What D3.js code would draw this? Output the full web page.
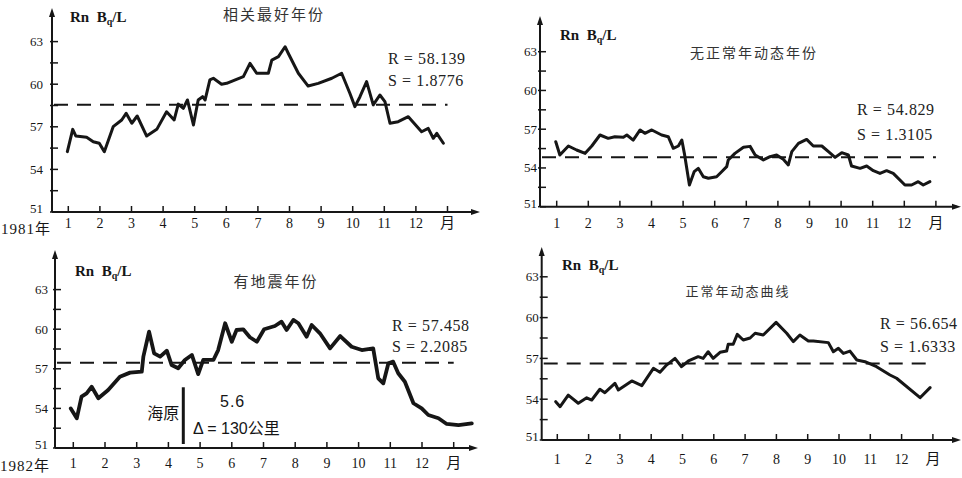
<!DOCTYPE html>
<html>
<head>
<meta charset="utf-8">
<script src="https://cdn.jsdelivr.net/npm/d3@7"></script>
<style>
  body { margin: 0; background: #fff; }
  svg { display: block; }
</style>
</head>
<body>
<div id="plot"></div>
<script>
// Values
const monthLabels = ["1", "2", "3", "4", "5", "6", "7", "8", "9", "10", "11", "12", "月"];
const yTickValues = [51, 54, 57, 60, 63];
const titles = ["相关最好年份", "无正常年动态年份", "有地震年份", "正常年动态曲线"];
const rTexts = ["58.139", "54.829", "57.458", "56.654"];
const sTexts = ["1.8776", "1.3105", "2.2085", "1.6333"];
const meanLevels = [58.55, 54.82, 57.46, 56.62];
const yearLabels = ["1981年", "", "1982年", ""];

// 相关最好年份 (1981)
const p1Months = [0.97, 1.14, 1.24, 1.58, 1.79, 1.98, 2.14, 2.42, 2.69, 2.83, 3.01, 3.18, 3.48, 3.80,
  4.11, 4.35, 4.48, 4.64, 4.77, 4.96, 5.11, 5.25, 5.33, 5.48, 5.59, 5.85, 6.01, 6.54, 6.75, 6.96,
  7.22, 7.33, 7.44, 7.65, 7.86, 7.96, 8.28, 8.59, 8.91, 9.34, 9.65, 9.91, 10.07, 10.23, 10.44,
  10.65, 10.86, 11.02, 11.18, 11.44, 11.76, 12.18, 12.39, 12.55, 12.66, 12.87];
const p1Values = [55.25, 56.82, 56.35, 56.26, 55.95, 55.84, 55.25, 57.01, 57.48, 57.95, 57.25, 57.76,
  56.35, 56.82, 58.06, 57.48, 58.6, 58.3, 58.89, 57.13, 58.89, 59.12, 58.89, 60.3, 60.42, 60.0,
  60.06, 60.53, 61.47, 60.77, 60.77, 60.77, 61.7, 61.94, 62.64, 62.18, 60.77, 59.87, 60.06, 60.42,
  60.77, 59.36, 58.42, 59.12, 60.18, 58.54, 59.24, 58.77, 57.25, 57.36, 57.71, 56.65, 56.89, 56.19,
  56.54, 55.84];

// 无正常年动态年份
const p2Months = [0.97, 1.10, 1.37, 1.63, 1.90, 2.11, 2.37, 2.63, 2.84, 3.11, 3.22, 3.42, 3.64, 3.79,
  4.01, 4.32, 4.53, 4.69, 4.85, 4.96, 5.04, 5.20, 5.35, 5.48, 5.64, 5.80, 6.06, 6.22, 6.38, 6.43,
  6.64, 6.91, 7.12, 7.28, 7.54, 7.75, 7.96, 8.17, 8.33, 8.44, 8.65, 8.91, 9.12, 9.39, 9.60, 9.81,
  10.02, 10.23, 10.33, 10.60, 10.81, 11.02, 11.23, 11.44, 11.65, 12.02, 12.23, 12.44, 12.60, 12.81];
const p2Values = [56.03, 55.0, 55.7, 55.39, 55.13, 55.7, 56.55, 56.29, 56.42, 56.37, 56.55, 56.16,
  56.94, 56.68, 56.94, 56.55, 56.42, 55.52, 55.7, 56.16, 55.13, 52.68, 53.71, 53.97, 53.32, 53.2,
  53.32, 53.71, 54.1, 54.62, 55.13, 55.6, 55.67, 55.0, 54.62, 54.87, 55.0, 54.67, 54.23, 55.26,
  55.9, 56.21, 55.7, 55.7, 55.26, 54.82, 55.18, 55.0, 54.15, 53.97, 54.15, 53.79, 53.58, 53.79,
  53.58, 52.68, 52.68, 52.94, 52.68, 52.94];

// 有地震年份 (1982)
const p3Months = [0.92, 1.11, 1.26, 1.42, 1.58, 1.79, 2.10, 2.47, 2.79, 3.16, 3.21, 3.39, 3.55, 3.74,
  3.95, 4.10, 4.31, 4.52, 4.74, 4.94, 5.10, 5.42, 5.57, 5.79, 6.00, 6.15, 6.36, 6.57, 6.79, 7.02,
  7.36, 7.57, 7.73, 7.94, 8.10, 8.36, 8.52, 8.78, 9.10, 9.42, 9.78, 10.10, 10.46, 10.62, 10.78,
  10.94, 11.09, 11.25, 11.46, 11.73, 11.99, 12.20, 12.52, 12.78, 13.15, 13.57];
const p3Values = [54.0, 53.25, 54.89, 55.14, 55.64, 54.77, 55.39, 56.4, 56.71, 56.78, 57.92, 59.81,
  58.17, 57.92, 58.37, 57.29, 57.04, 57.67, 58.05, 56.6, 57.67, 57.67, 58.42, 60.45, 59.05, 59.94,
  59.99, 59.39, 59.05, 60.0, 60.24, 60.57, 59.94, 60.7, 60.45, 59.43, 60.32, 59.69, 58.55, 59.48,
  58.67, 58.42, 58.55, 56.28, 55.9, 57.42, 57.54, 56.66, 56.02, 54.39, 54.0, 53.5, 53.25, 52.82,
  52.74, 52.87];
const quakeMonth = 4.47;
const quakeTop = 55.6;

// 正常年动态曲线
const p4Months = [0.95, 1.09, 1.35, 1.67, 1.94, 2.10, 2.36, 2.52, 2.84, 2.95, 3.38, 3.70, 4.07, 4.28,
  4.49, 4.76, 4.97, 5.19, 5.50, 5.66, 5.82, 5.98, 6.20, 6.41, 6.46, 6.62, 6.75, 6.94, 7.16, 7.32,
  7.58, 7.99, 8.33, 8.54, 8.75, 9.02, 9.18, 9.66, 9.82, 9.98, 10.14, 10.35, 10.57, 10.83, 11.20,
  11.63, 11.84, 12.59, 12.91];
const p4Values = [53.82, 53.45, 54.3, 53.7, 54.1, 53.94, 54.73, 54.48, 55.17, 54.68, 55.34, 55.0,
  56.27, 55.98, 56.51, 57.0, 56.39, 56.81, 57.13, 57.0, 57.49, 57.0, 57.45, 57.54, 58.04, 58.04,
  58.77, 58.35, 58.5, 58.85, 58.72, 59.65, 58.85, 58.23, 58.72, 58.28, 58.28, 58.16, 57.49, 57.74,
  57.37, 57.54, 56.88, 56.76, 56.39, 55.78, 55.54, 54.11, 54.85];

const seriesMonths = [p1Months, p2Months, p3Months, p4Months];
const seriesValues = [p1Values, p2Values, p3Values, p4Values];

// Panel geometry (pixels)
const panels = [
  { ax: 52, y51: 212, y63: 41.6, x1: 68.3, step: 31.6, top: 8, right: 480, lw: 3,
    labGap: 9, xlab: 16, unit: [70, 22], title: [274, 20, 15],
    r: [388, 64], s: [388, 86], year: [1, 234] },
  { ax: 540, y51: 206.7, y63: 51.7, x1: 556.7, step: 31.6, top: 16, right: 961, lw: 3,
    labGap: 3, xlab: 21, unit: [560, 40], title: [754, 58, 14],
    r: [857, 115], s: [857, 140], year: null },
  { ax: 55, y51: 448, y63: 289.6, x1: 73.3, step: 31.7, top: 250, right: 478, lw: 3.8,
    labGap: 7, xlab: 20, unit: [75, 276], title: [276, 287, 15],
    r: [392, 331], s: [392, 352], year: [0, 471] },
  { ax: 541.7, y51: 440, y63: 276.8, x1: 557.3, step: 31.3, top: 247, right: 961, lw: 3,
    labGap: 3, xlab: 24, unit: [562, 270], title: [738, 296, 13],
    r: [880, 329], s: [880, 352], year: null }
];

const width = 962, height = 478;
const ink = "#161616";
const serif = "'Liberation Serif', 'Times New Roman', serif";
const cjk = "'Noto Sans CJK SC', sans-serif";

const svg = d3.select("#plot").append("svg")
  .attr("width", width)
  .attr("height", height);

panels.forEach((p, i) => {
  const x = d3.scaleLinear().domain([1, 13]).range([p.x1, p.x1 + 12 * p.step]);
  const y = d3.scaleLinear().domain([51, 63]).range([p.y51, p.y63]);
  const g = svg.append("g");

  // axes with arrow heads
  g.append("line").attr("x1", p.ax).attr("x2", p.ax).attr("y1", p.top + 4).attr("y2", p.y51)
    .attr("stroke", ink).attr("stroke-width", 2);
  g.append("path").attr("d", `M${p.ax},${p.top} l-3,9 l6,0 z`).attr("fill", ink);
  g.append("line").attr("x1", p.ax).attr("x2", p.right - 4).attr("y1", p.y51).attr("y2", p.y51)
    .attr("stroke", ink).attr("stroke-width", 2);
  g.append("path").attr("d", `M${p.right},${p.y51} l-9,-3 l0,6 z`).attr("fill", ink);

  // y ticks every 1.5, labels every 3
  d3.range(51, 63.01, 1.5).forEach(v => {
    g.append("line").attr("x1", p.ax - 2).attr("x2", p.ax + 6)
      .attr("y1", y(v)).attr("y2", y(v)).attr("stroke", ink).attr("stroke-width", 1.5);
  });
  g.selectAll(".ylab").data(yTickValues).enter().append("text")
    .attr("x", p.ax - p.labGap).attr("y", d => y(d) + (d === 51 ? 1 : 4.5))
    .attr("text-anchor", "end")
    .style("font-family", serif).style("font-size", "13px").attr("fill", ink)
    .text(d => d);

  // month ticks and labels
  g.selectAll(".xt").data(monthLabels).enter().append("line")
    .attr("x1", (d, k) => x(k + 1)).attr("x2", (d, k) => x(k + 1))
    .attr("y1", p.y51).attr("y2", p.y51 - 6)
    .attr("stroke", ink).attr("stroke-width", 1.5);
  g.selectAll(".xl").data(monthLabels).enter().append("text")
    .attr("x", (d, k) => x(k + 1)).attr("y", p.y51 + p.xlab)
    .attr("text-anchor", "middle")
    .style("font-family", d => d === "月" ? cjk : serif)
    .style("font-size", d => d === "月" ? "15px" : "14px")
    .attr("fill", ink)
    .text(d => d);

  if (p.year) {
    g.append("text").attr("x", p.year[0]).attr("y", p.year[1])
      .style("font-family", serif).style("font-size", "15px").style("letter-spacing", "1px")
      .attr("fill", ink)
      .text(yearLabels[i].replace("年", ""))
      .append("tspan").style("font-family", cjk).text("年");
  }

  // mean level
  g.append("line").attr("x1", p.ax + 2).attr("x2", x(13))
    .attr("y1", y(meanLevels[i])).attr("y2", y(meanLevels[i]))
    .attr("stroke", ink).attr("stroke-width", 2).attr("stroke-dasharray", "14,9");

  // series
  const pts = seriesMonths[i].map((m, k) => [m, seriesValues[i][k]]);
  g.append("path").datum(pts)
    .attr("fill", "none").attr("stroke", ink).attr("stroke-width", p.lw)
    .attr("stroke-linejoin", "round").attr("stroke-linecap", "round")
    .attr("d", d3.line().x(d => x(d[0])).y(d => y(d[1])));

  // unit label
  const u = g.append("text").attr("x", p.unit[0]).attr("y", p.unit[1])
    .style("font-family", serif).style("font-size", "15px").style("font-weight", "bold")
    .attr("fill", ink);
  u.append("tspan").text("Rn\u2002B");
  u.append("tspan").attr("dy", 3).style("font-size", "10px").text("q");
  u.append("tspan").attr("dy", -3).text("/L");

  // title
  g.append("text").attr("x", p.title[0]).attr("y", p.title[1])
    .attr("text-anchor", "middle")
    .style("font-family", cjk).style("font-size", p.title[2] + "px")
    .style("letter-spacing", "2px").attr("fill", "#333")
    .text(titles[i]);

  // statistics
  g.append("text").attr("x", p.r[0]).attr("y", p.r[1])
    .style("font-family", serif).style("font-size", "16px").style("letter-spacing", "0.6px")
    .attr("fill", "#222")
    .text("R = " + rTexts[i]);
  g.append("text").attr("x", p.s[0]).attr("y", p.s[1])
    .style("font-family", serif).style("font-size", "16px").style("letter-spacing", "0.6px")
    .attr("fill", "#222")
    .text("S = " + sTexts[i]);

  // earthquake marker
  if (i === 2) {
    g.append("line").attr("x1", x(quakeMonth)).attr("x2", x(quakeMonth))
      .attr("y1", y(quakeTop)).attr("y2", p.y51 - 4)
      .attr("stroke", ink).attr("stroke-width", 3);
    g.append("text").attr("x", x(quakeMonth) - 4).attr("y", 419)
      .attr("text-anchor", "end")
      .style("font-family", cjk).style("font-size", "16px").attr("fill", ink)
      .text("海原");
    g.append("text").attr("x", 220).attr("y", 407)
      .style("font-family", "'Liberation Sans', sans-serif").style("font-size", "16px")
      .style("letter-spacing", "1px").attr("fill", ink)
      .text("5.6");
    const t = g.append("text").attr("x", 193).attr("y", 434)
      .style("font-family", "'Liberation Sans', sans-serif").style("font-size", "16px")
      .attr("fill", ink);
    t.append("tspan").text("\u0394 = 130");
    t.append("tspan").style("font-family", cjk).text("公里");
  }
});
</script>
</body>
</html>
